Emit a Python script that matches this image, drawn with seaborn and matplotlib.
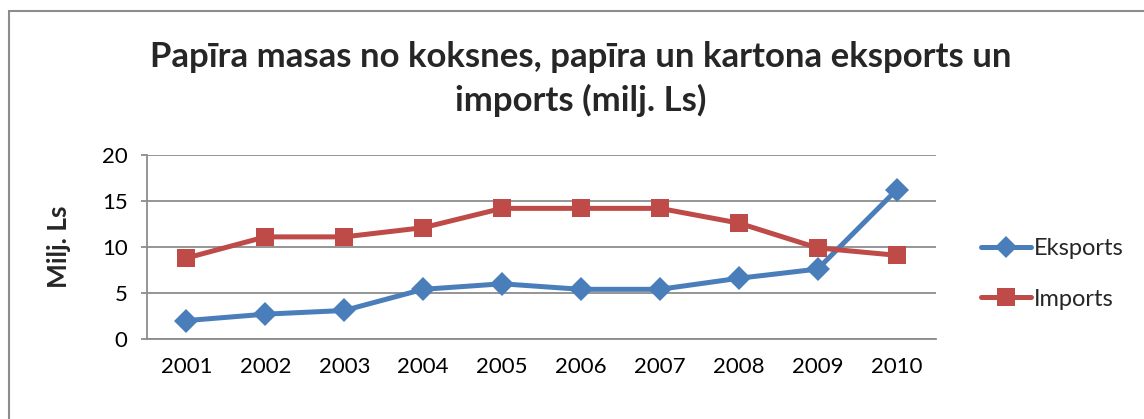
import matplotlib
matplotlib.use("Agg")
import matplotlib.pyplot as plt
import seaborn as sns
import pandas as pd
from matplotlib.patches import Rectangle
from matplotlib.lines import Line2D

years = ["2001", "2002", "2003", "2004", "2005", "2006", "2007", "2008", "2009", "2010"]
eksports = [2.0, 2.7, 3.1, 5.4, 6.0, 5.4, 5.4, 6.6, 7.6, 16.2]
imports = [8.8, 11.1, 11.1, 12.1, 14.2, 14.2, 14.2, 12.6, 9.9, 9.1]
series_names = ["Eksports", "Imports"]
y_ticks = [0, 5, 10, 15, 20]
title = "Papīra masas no koksnes, papīra un kartona eksports un\nimports (milj. Ls)"
y_label = "Milj. Ls"

sns.set_theme(style="white")
plt.rcParams["font.family"] = ["Lato", "DejaVu Sans"]

df = pd.DataFrame({
    "Gads": years * 2,
    "Vērtība": eksports + imports,
    "Sērija": [series_names[0]] * len(years) + [series_names[1]] * len(years),
})

fig = plt.figure(figsize=(11.44, 4.19), dpi=100)
ax = fig.add_axes([147 / 1144, 1 - 339 / 419, (936 - 147) / 1144, (339 - 155) / 419])

# outer chart frame
fig.patches.append(Rectangle((9 / 1144, -0.1), 1.2, 1 - 11 / 419 + 0.1, transform=fig.transFigure,
                             fill=False, edgecolor="#8c8c8c", linewidth=1.5))

palette = {"Eksports": "#4A7EBB", "Imports": "#BE4B48"}
sns.lineplot(data=df, x="Gads", y="Vērtība", hue="Sērija", style="Sērija",
             palette=palette, markers={"Eksports": "D", "Imports": "s"}, dashes=False,
             linewidth=3.6, markersize=12.5, markeredgewidth=0, ax=ax, legend=False, sort=False)

ax.set_xlim(-0.5, len(years) - 0.5)
ax.set_ylim(0, 20)
ax.set_yticks(y_ticks)
ax.yaxis.grid(True, color="#8c8c8c", linewidth=1.3)
ax.xaxis.grid(False)
for s in ["top", "right"]:
    ax.spines[s].set_visible(False)
for s in ["left", "bottom"]:
    ax.spines[s].set_color("#8c8c8c")
    ax.spines[s].set_linewidth(1.3)
ax.tick_params(axis="y", length=4, color="#8c8c8c", width=1.3, labelsize=16, pad=10, left=True)
ax.tick_params(axis="x", length=0, labelsize=16, pad=13)
ax.set_xlabel("")
ax.set_ylabel(y_label, fontsize=19, fontweight="bold", labelpad=22)
for t in ax.get_xticklabels() + ax.get_yticklabels():
    t.set_color("black")

fig.text(581 / 1144, 1 - 79 / 419, title, ha="center", va="center", fontsize=25,
         fontweight="bold", linespacing=1.4)

handles = [Line2D([], [], color=palette["Eksports"], marker="D", markersize=11, linewidth=3.6, markeredgewidth=0),
           Line2D([], [], color=palette["Imports"], marker="s", markersize=13, linewidth=3.6, markeredgewidth=0)]
fig.legend(handles, series_names, loc="center left", bbox_to_anchor=(960 / 1144, 1 - 274 / 419),
           frameon=False, fontsize=17, handlelength=2.1, handletextpad=0.15, labelspacing=1.25)

fig.savefig("out.png", dpi=100)
